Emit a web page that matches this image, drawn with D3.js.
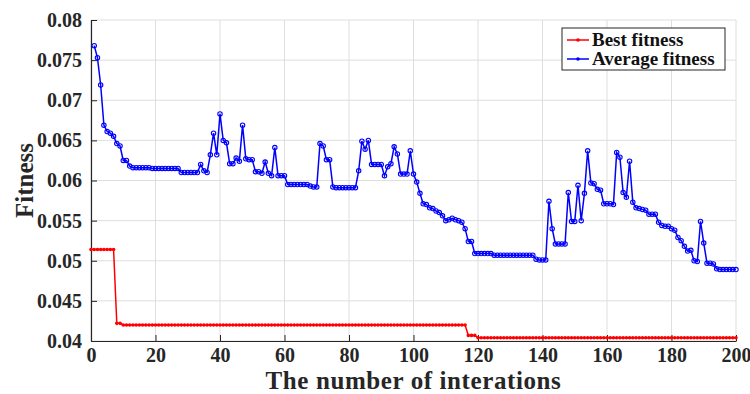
<!DOCTYPE html>
<html>
<head>
<meta charset="utf-8">
<script src="https://cdn.jsdelivr.net/npm/d3@7"></script>
<style>
  body { margin: 0; background: #fff; }
  svg { display: block; font-family: "Liberation Serif", serif; font-weight: bold; }
</style>
</head>
<body>
<svg id="chart" width="750" height="394"></svg>
<script>
// best fitness, iterations 0..200
var bestFitness = [
  0.0514,0.0514,0.0514,0.0514,0.0514,0.0514,0.0514,0.0514,0.0422,0.0422,
  0.0420,0.0420,0.0420,0.0420,0.0420,0.0420,0.0420,0.0420,0.0420,0.0420,
  0.0420,0.0420,0.0420,0.0420,0.0420,0.0420,0.0420,0.0420,0.0420,0.0420,
  0.0420,0.0420,0.0420,0.0420,0.0420,0.0420,0.0420,0.0420,0.0420,0.0420,
  0.0420,0.0420,0.0420,0.0420,0.0420,0.0420,0.0420,0.0420,0.0420,0.0420,
  0.0420,0.0420,0.0420,0.0420,0.0420,0.0420,0.0420,0.0420,0.0420,0.0420,
  0.0420,0.0420,0.0420,0.0420,0.0420,0.0420,0.0420,0.0420,0.0420,0.0420,
  0.0420,0.0420,0.0420,0.0420,0.0420,0.0420,0.0420,0.0420,0.0420,0.0420,
  0.0420,0.0420,0.0420,0.0420,0.0420,0.0420,0.0420,0.0420,0.0420,0.0420,
  0.0420,0.0420,0.0420,0.0420,0.0420,0.0420,0.0420,0.0420,0.0420,0.0420,
  0.0420,0.0420,0.0420,0.0420,0.0420,0.0420,0.0420,0.0420,0.0420,0.0420,
  0.0420,0.0420,0.0420,0.0420,0.0420,0.0420,0.0420,0.0407,0.0407,0.0407,
  0.0404,0.0404,0.0404,0.0404,0.0404,0.0404,0.0404,0.0404,0.0404,0.0404,
  0.0404,0.0404,0.0404,0.0404,0.0404,0.0404,0.0404,0.0404,0.0404,0.0404,
  0.0404,0.0404,0.0404,0.0404,0.0404,0.0404,0.0404,0.0404,0.0404,0.0404,
  0.0404,0.0404,0.0404,0.0404,0.0404,0.0404,0.0404,0.0404,0.0404,0.0404,
  0.0404,0.0404,0.0404,0.0404,0.0404,0.0404,0.0404,0.0404,0.0404,0.0404,
  0.0404,0.0404,0.0404,0.0404,0.0404,0.0404,0.0404,0.0404,0.0404,0.0404,
  0.0404,0.0404,0.0404,0.0404,0.0404,0.0404,0.0404,0.0404,0.0404,0.0404,
  0.0404,0.0404,0.0404,0.0404,0.0404,0.0404,0.0404,0.0404,0.0404,0.0404,
  0.0404
];
// average fitness, iterations 1..200
var avgFitness = [
  0.0768,0.0753,0.0719,0.0669,0.0661,0.0659,0.0655,0.0646,0.0643,0.0625,
  0.0625,0.0618,0.0616,0.0616,0.0616,0.0616,0.0616,0.0616,0.0615,0.0615,
  0.0615,0.0615,0.0615,0.0615,0.0615,0.0615,0.0615,0.0610,0.0610,0.0610,
  0.0610,0.0610,0.0610,0.0620,0.0612,0.0610,0.0632,0.0659,0.0632,0.0683,
  0.0650,0.0647,0.0621,0.0621,0.0628,0.0624,0.0669,0.0627,0.0626,0.0626,
  0.0611,0.0611,0.0609,0.0623,0.0609,0.0606,0.0641,0.0606,0.0606,0.0606,
  0.0595,0.0595,0.0595,0.0595,0.0595,0.0595,0.0595,0.0593,0.0592,0.0592,
  0.0646,0.0643,0.0626,0.0626,0.0592,0.0591,0.0591,0.0591,0.0591,0.0591,
  0.0591,0.0591,0.0612,0.0649,0.0639,0.0650,0.0620,0.0620,0.0620,0.0620,
  0.0606,0.0617,0.0621,0.0642,0.0633,0.0608,0.0608,0.0608,0.0637,0.0608,
  0.0598,0.0584,0.0571,0.0570,0.0566,0.0565,0.0562,0.0560,0.0556,0.0550,
  0.0551,0.0553,0.0551,0.0550,0.0548,0.0540,0.0524,0.0524,0.0509,0.0509,
  0.0509,0.0509,0.0509,0.0509,0.0507,0.0507,0.0507,0.0507,0.0507,0.0507,
  0.0507,0.0507,0.0507,0.0507,0.0507,0.0507,0.0507,0.0502,0.0501,0.0501,
  0.0501,0.0574,0.0540,0.0521,0.0521,0.0521,0.0521,0.0585,0.0549,0.0549,
  0.0594,0.0550,0.0584,0.0637,0.0597,0.0596,0.0589,0.0588,0.0571,0.0571,
  0.0571,0.0570,0.0635,0.0629,0.0585,0.0579,0.0624,0.0573,0.0566,0.0565,
  0.0564,0.0563,0.0558,0.0558,0.0558,0.0548,0.0544,0.0543,0.0543,0.0540,
  0.0538,0.0529,0.0525,0.0518,0.0512,0.0513,0.0500,0.0499,0.0549,0.0522,
  0.0497,0.0497,0.0496,0.0490,0.0489,0.0489,0.0489,0.0489,0.0489,0.0489
];
var xTicks = [0, 20, 40, 60, 80, 100, 120, 140, 160, 180, 200];
var yTicks = [0.04, 0.045, 0.05, 0.055, 0.06, 0.065, 0.07, 0.075, 0.08];
var seriesNames = ["Best fitness", "Average fitness"];
var seriesColors = ["#ff0000", "#0000ff"];

var bestPts = bestFitness.map(function(v, i) { return {x: i, y: v}; });
var avgPts = avgFitness.map(function(v, i) { return {x: i + 1, y: v}; });

var svg = d3.select("#chart");
var margin = {top: 20, right: 14, bottom: 53, left: 91};
var w = 750 - margin.left - margin.right,
    h = 394 - margin.top - margin.bottom;

var x = d3.scaleLinear().domain([0, 200]).range([0, w]);
var y = d3.scaleLinear().domain([0.04, 0.08]).range([h, 0]);

var g = svg.append("g").attr("transform", "translate(" + margin.left + "," + margin.top + ")");

// grid lines
g.append("g").selectAll("line").data(xTicks).enter().append("line")
  .attr("x1", function(d) { return x(d); }).attr("x2", function(d) { return x(d); })
  .attr("y1", 0).attr("y2", h)
  .attr("stroke", "#dedede").attr("stroke-width", 1);
g.append("g").selectAll("line").data(yTicks).enter().append("line")
  .attr("y1", function(d) { return y(d); }).attr("y2", function(d) { return y(d); })
  .attr("x1", 0).attr("x2", w)
  .attr("stroke", "#dedede").attr("stroke-width", 1);

// axes (ticks pointing inward like matlab)
var xAxis = g.append("g").attr("transform", "translate(0," + h + ")")
  .call(d3.axisBottom(x).tickValues(xTicks).tickSizeInner(-6).tickSizeOuter(0).tickPadding(7));
var yAxis = g.append("g")
  .call(d3.axisLeft(y).tickValues(yTicks).tickSizeInner(-6).tickSizeOuter(0).tickPadding(9)
    .tickFormat(function(d) { return String(+d.toFixed(3)); }));
[xAxis, yAxis].forEach(function(a) {
  a.select(".domain").attr("stroke", "#262626").attr("stroke-width", 1.2);
  a.selectAll(".tick line").attr("stroke", "#262626");
  a.selectAll("text").attr("fill", "#262626")
    .style("font-family", "Liberation Serif").style("font-weight", "bold").style("font-size", "20px");
});

var line = d3.line().x(function(d) { return x(d.x); }).y(function(d) { return y(d.y); });

// best fitness
g.append("path").datum(bestPts).attr("d", line)
  .attr("fill", "none").attr("stroke", seriesColors[0]).attr("stroke-width", 1.5);
g.append("g").selectAll("circle").data(bestPts).enter().append("circle")
  .attr("cx", function(d) { return x(d.x); }).attr("cy", function(d) { return y(d.y); })
  .attr("r", 1.8).attr("fill", seriesColors[0]);

// average fitness
g.append("path").datum(avgPts).attr("d", line)
  .attr("fill", "none").attr("stroke", seriesColors[1]).attr("stroke-width", 1.5);
g.append("g").selectAll("circle").data(avgPts).enter().append("circle")
  .attr("cx", function(d) { return x(d.x); }).attr("cy", function(d) { return y(d.y); })
  .attr("r", 2.2).attr("fill", "none").attr("stroke", seriesColors[1]).attr("stroke-width", 1.1);

// axis titles
svg.append("text").attr("x", margin.left + w / 2).attr("y", 388.5)
  .attr("text-anchor", "middle").attr("fill", "#262626")
  .style("font-size", "25px").style("letter-spacing", "0.6px")
  .text("The number of interations");
svg.append("text").attr("transform", "translate(33," + (margin.top + h / 2) + ") rotate(-90)")
  .attr("text-anchor", "middle").attr("fill", "#262626")
  .style("font-size", "25px").text("Fitness");

// legend
var legend = svg.append("g").attr("transform", "translate(562,28)");
legend.append("rect").attr("width", 163).attr("height", 42)
  .attr("fill", "#fff").attr("stroke", "#262626").attr("stroke-width", 1);
seriesNames.forEach(function(name, i) {
  var ly = 12 + i * 19;
  legend.append("line").attr("x1", 5).attr("x2", 27).attr("y1", ly).attr("y2", ly)
    .attr("stroke", seriesColors[i]).attr("stroke-width", 1.5);
  legend.append("circle").attr("cx", 16).attr("cy", ly).attr("r", 1.8).attr("fill", seriesColors[i]);
  legend.append("text").attr("x", 30).attr("y", ly + 6).attr("fill", "#111")
    .style("font-size", "19px").text(name);
});
</script>
</body>
</html>
